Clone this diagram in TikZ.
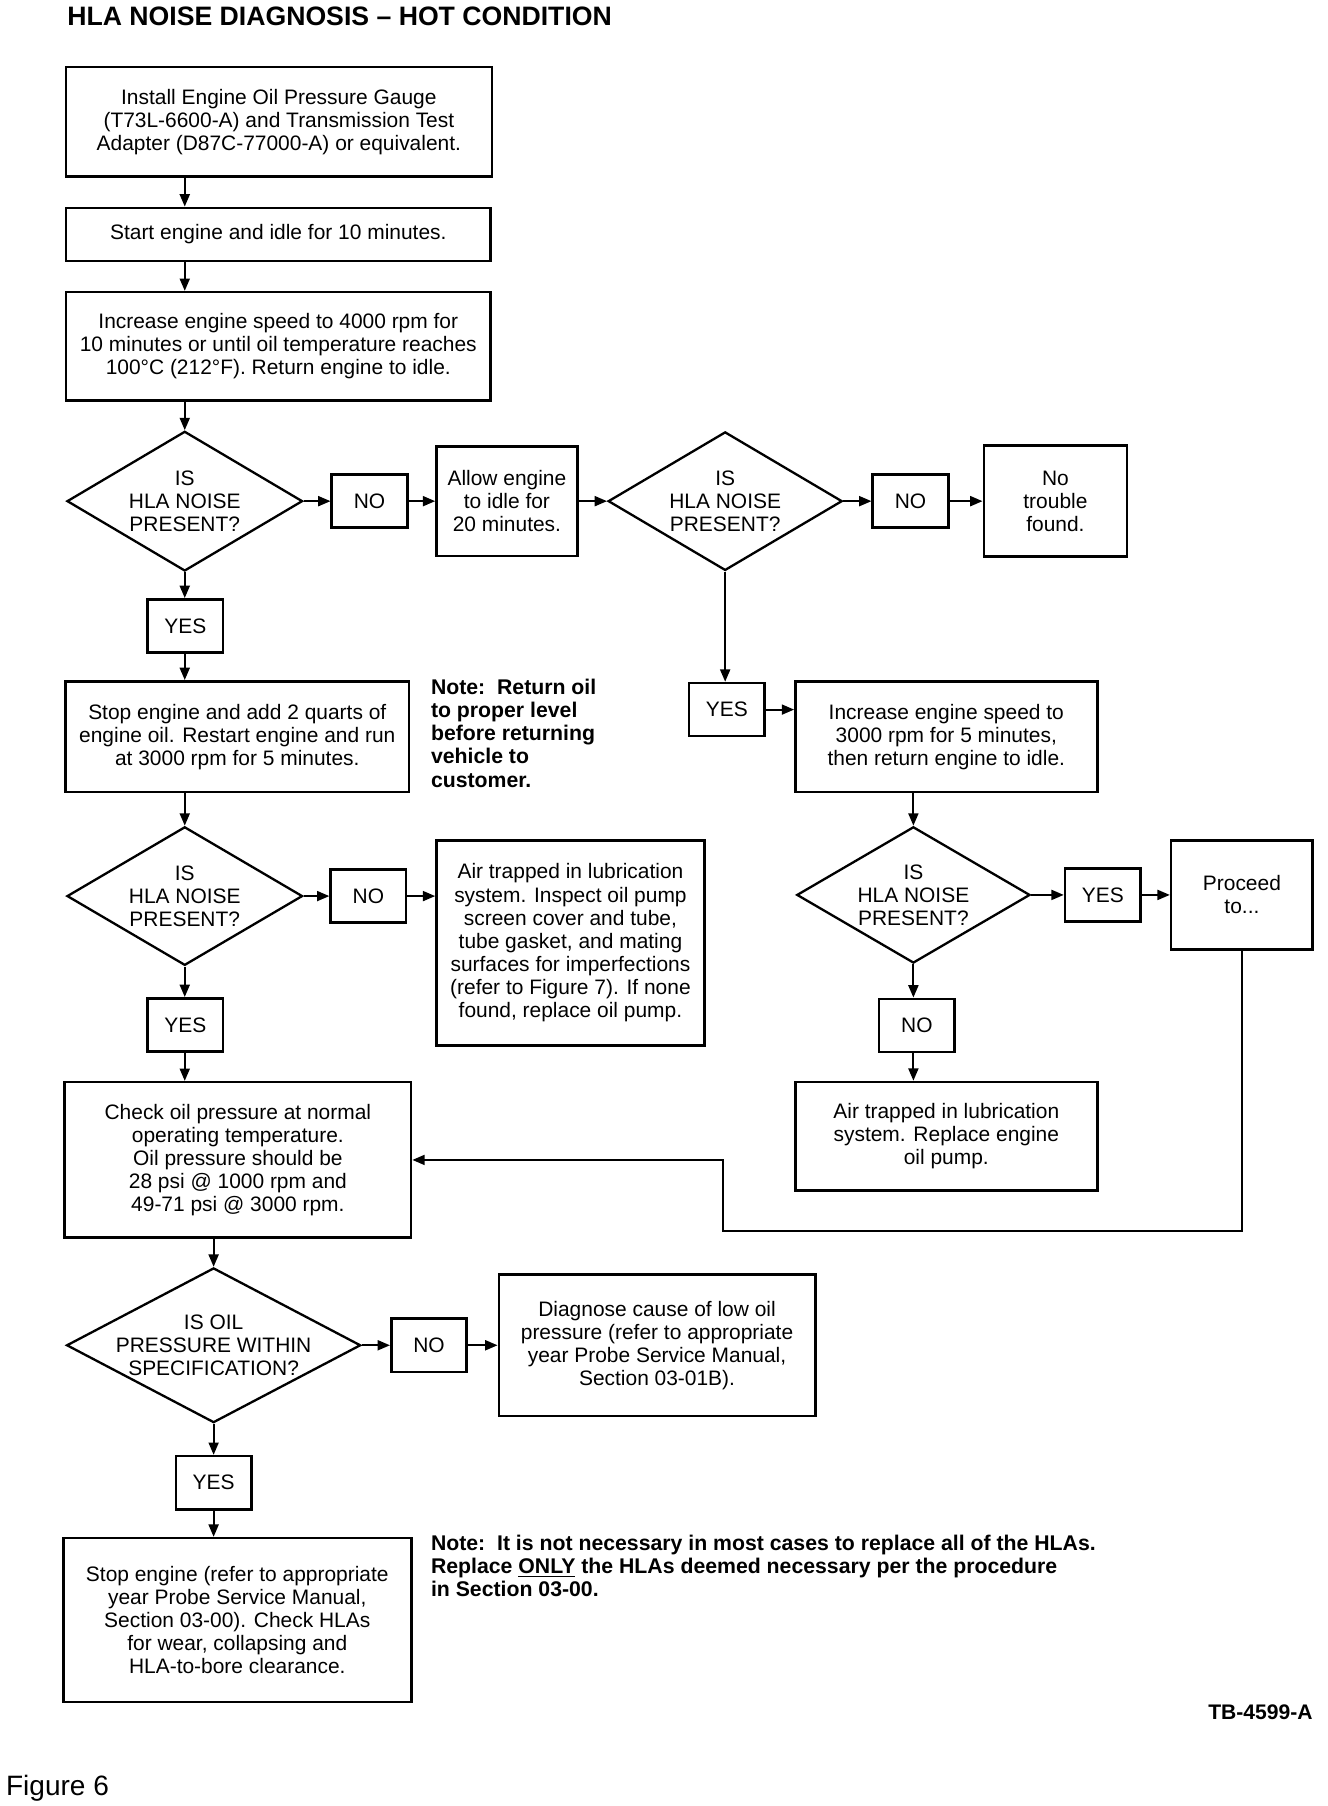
\documentclass[tikz,border=0pt]{standalone}
\usepackage{fontspec}
\setmainfont{Liberation Sans}
\usetikzlibrary{shapes.geometric,arrows.meta}

\tikzset{
  every box/.style={draw, line width=1.7pt, align=center, inner sep=0pt,
    font=\fontsize{13.6}{15}\selectfont},
  every answer/.style={every box/.try, minimum width=49pt, minimum height=34.5pt},
  every decision/.style={diamond, draw, line width=1.5pt, align=center, inner ysep=0pt,
    inner xsep=-6pt, aspect=1.7, font=\fontsize{13.6}{15}\selectfont},
  every note/.style={anchor=north west, align=left, inner sep=0pt,
    font=\fontsize{13.8}{15}\selectfont\bfseries},
  link/.style={->, line width=1.2pt}
}

\begin{document}
\begin{tikzpicture}[x=0.75pt, y=-0.75pt, >={Triangle[length=8pt,width=6.5pt]}]
\useasboundingbox (0,0) rectangle (1150,1564);

\node [anchor=west, inner sep=0pt, font=\fontsize{17.3}{20}\selectfont\bfseries] (title) at (58,14)
  {HLA NOISE DIAGNOSIS -- HOT CONDITION};

% left column
\node [every box/.try, minimum width=276.75pt, minimum height=71.25pt] (install) at (241.5,105.5)
  {Install Engine Oil Pressure Gauge\\(T73L-6600-A) and Transmission Test\\Adapter (D87C-77000-A) or equivalent.};
\node [every box/.try, minimum width=276pt, minimum height=34.5pt] (start) at (241,203)
  {Start engine and idle for 10 minutes.};
\node [every box/.try, minimum width=276pt, minimum height=70.5pt] (speedup) at (241,300)
  {Increase engine speed to 4000 rpm for\\10 minutes or until oil temperature reaches\\100°C (212°F). Return engine to idle.};
\node [every decision/.try, minimum width=153pt, minimum height=90.75pt] (noise1) at (160,434)
  {IS\\HLA NOISE\\PRESENT?};
\node [every box/.try, minimum width=223pt, minimum height=72pt] (addoil) at (205.5,638)
  {Stop engine and add 2 quarts of\\engine oil. Restart engine and run\\at 3000 rpm for 5 minutes.};
\node [every decision/.try, minimum width=153pt, minimum height=90pt] (noise3) at (160,776)
  {IS\\HLA NOISE\\PRESENT?};
\node [every box/.try, minimum width=225pt, minimum height=101pt] (checkp) at (206,1004.5)
  {Check oil pressure at normal\\operating temperature.\\Oil pressure should be\\28 psi @ 1000 rpm and\\49-71 psi @ 3000 rpm.};
\node [every decision/.try, aspect=1.9, inner xsep=-16pt, minimum width=191pt, minimum height=100.5pt] (spec) at (185,1165)
  {IS OIL\\PRESSURE WITHIN\\SPECIFICATION?};
\node [every box/.try, minimum width=226pt, minimum height=106.5pt] (stopeng) at (205.5,1403)
  {Stop engine (refer to appropriate\\year Probe Service Manual,\\Section 03-00). Check HLAs\\for wear, collapsing and\\HLA-to-bore clearance.};

% middle and right
\node [every box/.try, minimum width=91.5pt, minimum height=71.25pt] (idle20) at (439,434)
  {Allow engine\\to idle for\\20 minutes.};
\node [every decision/.try, minimum width=152pt, minimum height=90pt] (noise2) at (628,434)
  {IS\\HLA NOISE\\PRESENT?};
\node [every box/.try, minimum width=93pt, minimum height=72pt] (notrouble) at (914,434)
  {No\\trouble\\found.};
\node [every box/.try, minimum width=196pt, minimum height=72pt] (speed3000) at (819.5,638)
  {Increase engine speed to\\3000 rpm for 5 minutes,\\then return engine to idle.};
\node [every decision/.try, minimum width=151.5pt, minimum height=88.5pt] (noise4) at (791,775)
  {IS\\HLA NOISE\\PRESENT?};
\node [every box/.try, minimum width=92pt, minimum height=71pt] (proceed) at (1075.5,775)
  {Proceed\\to...};
\node [every box/.try, minimum width=174pt, minimum height=133pt] (airpump) at (494,816.5)
  {Air trapped in lubrication\\system. Inspect oil pump\\screen cover and tube,\\tube gasket, and mating\\surfaces for imperfections\\(refer to Figure 7). If none\\found, replace oil pump.};
\node [every box/.try, minimum width=196pt, minimum height=70.5pt] (airrepl) at (819.5,984)
  {Air trapped in lubrication\\system. Replace engine\\oil pump.};
\node [every box/.try, minimum width=205.5pt, minimum height=92pt] (lowoil) at (569,1165)
  {Diagnose cause of low oil\\pressure (refer to appropriate\\year Probe Service Manual,\\Section 03-01B).};

\foreach \t/\n/\x/\y in {NO/no1/320/434, NO/no2/788.5/434, YES/yes1/160.5/542,
    YES/yes2/629.5/614.5, NO/no3/319/776, YES/yes3/955/775, YES/yes4/160.5/887.5,
    NO/no4/794/888, NO/no5/371.5/1165, YES/yes5/185/1284}
  \node [every answer/.try] (\n) at (\x,\y) {\t};

\node [every note/.try] (note1) at (373,588)
  {Note:\ \ Return oil\\to proper level\\before returning\\vehicle to\\customer.};
\node [every note/.try] (note2) at (373,1329)
  {Note:\ \ It is not necessary in most cases to replace all of the HLAs.\\
   Replace \underline{ONLY} the HLAs deemed necessary per the procedure\\in Section 03-00.};
\node [anchor=east, inner sep=0pt, font=\fontsize{13.7}{15}\selectfont\bfseries] (tbno) at (1137,1483) {TB-4599-A};
\node [anchor=west, inner sep=0pt, font=\fontsize{18.2}{20}\selectfont] (fig) at (5,1549) {Figure 6};

\foreach \a/\b in {install/start, start/speedup, speedup/noise1, noise1/yes1, yes1/addoil,
    addoil/noise3, noise3/yes4, yes4/checkp}
  \draw [link] (\a.south -| noise1) -- (\b.north -| noise1);

\foreach \a/\b in {checkp/spec, spec/yes5, yes5/stopeng}
  \draw [link] (\a.south -| spec) -- (\b.north -| spec);

\foreach \a/\b in {speed3000/noise4, noise4/no4, no4/airrepl}
  \draw [link] (\a.south -| noise4) -- (\b.north -| noise4);

\draw [link] (noise2.south) -- (yes2.north -| noise2);

\foreach \a/\b in {noise1/no1, no1/idle20, idle20/noise2, noise2/no2, no2/notrouble,
    noise3/no3, noise4/yes3, yes3/proceed, spec/no5, no5/lowoil}
  \draw [link] (\a.east) -- (\a.east -| \b.west);

\draw [link] (no3.east) -- (no3.east -| airpump.west);
\draw [link] (yes2.east) -- (yes2.east -| speed3000.west);

\coordinate (back) at (626,1066);
\draw [link] (proceed.south) |- (back) |- (checkp.east);
\end{tikzpicture}
\end{document}
